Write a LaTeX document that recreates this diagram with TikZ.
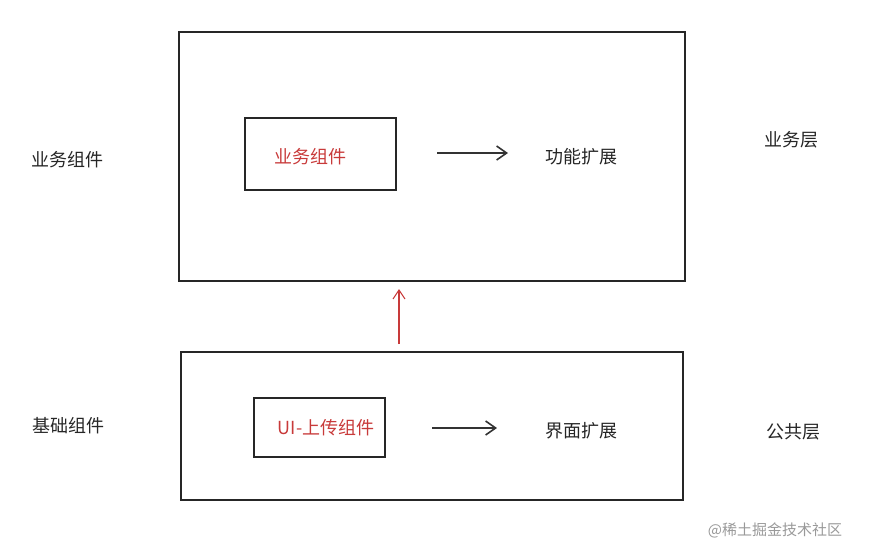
\documentclass[tikz,border=0pt]{standalone}
\usepackage{fontspec}
\setmainfont{Noto Sans CJK SC}
\usetikzlibrary{arrows.meta}
\definecolor{redt}{HTML}{C83A3A}
\tikzset{box/.style={draw=black!85,line width=1.1pt},
lbl/.style={font=\fontsize{18}{21}\selectfont,text=black!85},
rlbl/.style={font=\fontsize{18}{21}\selectfont,text=redt},
arr/.style={draw=black!80,line width=1.6pt,-{Straight Barb[length=10pt,width=14pt]}}}
\begin{document}
\begin{tikzpicture}[x=1pt,y=-1pt]
\useasboundingbox (0,0) rectangle (871,558);
\node[box,minimum width=506pt,minimum height=249pt] (top) at (432,156.5) {};
\node[box,minimum width=151pt,minimum height=72pt] (tin) at (320.5,154) {};
\node[rlbl] (tt) at (310,157) {业务组件};
\node[lbl] (f1) at (581,157) {功能扩展};
\coordinate (a1) at (437,153);
\coordinate (b1) at (508,153);
\draw[arr] (a1) -- (b1);
\node[lbl] (l1) at (67,160) {业务组件};
\node[lbl] (r1) at (791,140) {业务层};
\node[box,minimum width=502pt,minimum height=148pt] (bot) at (432,426) {};
\node[box,minimum width=131pt,minimum height=59pt] (bin) at (319.5,427.5) {};
\node[rlbl] (bt) at (326,428) {UI-上传组件};
\node[lbl] (f2) at (581,431) {界面扩展};
\coordinate (a2) at (432,428);
\coordinate (b2) at (497,428);
\draw[arr] (a2) -- (b2);
\node[lbl] (l2) at (68,426) {基础组件};
\node[lbl] (r2) at (793,432) {公共层};
\coordinate (u1) at (399,344);
\coordinate (u2) at (399,289);
\draw[draw=redt,line width=1.1pt,-{Straight Barb[length=9pt,width=12pt]}] (u1) -- (u2);
\node[font=\fontsize{15}{17}\selectfont,text=black!40] (wm) at (775,530) {@稀土掘金技术社区};
\end{tikzpicture}
\end{document}
